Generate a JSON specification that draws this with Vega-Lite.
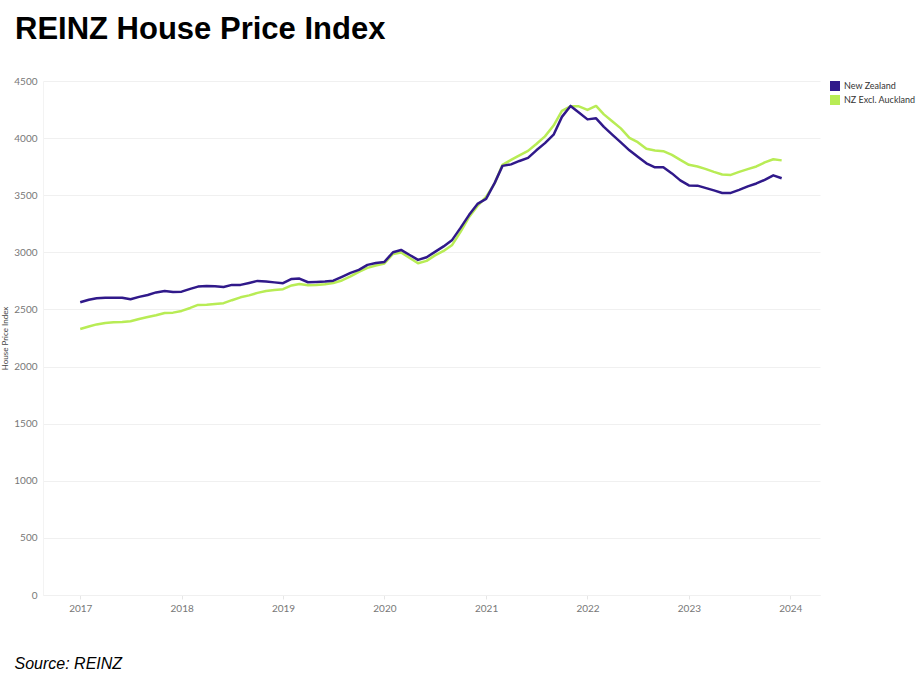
{
  "$schema": "https://vega.github.io/schema/vega-lite/v6.json",
  "autosize": {"type": "none"},
  "width": 777,
  "height": 514,
  "padding": {"left": 43, "top": 81, "right": 101, "bottom": 83},
  "background": "white",
  "title": {
    "text": "REINZ House Price Index",
    "anchor": "start",
    "frame": "group",
    "dx": -28,
    "offset": 6,
    "baseline": "alphabetic",
    "font": "Liberation Sans",
    "fontSize": 31,
    "fontWeight": "bold",
    "color": "#000000"
  },
  "config": {
    "view": {"stroke": null},
    "axis": {"labelFont": "Lato", "titleFont": "Lato"}
  },
  "data": {
    "values": [
      {"date":"2017-01-01","series":"NZ Excl. Auckland","value":2329},
      {"date":"2017-02-01","series":"NZ Excl. Auckland","value":2351},
      {"date":"2017-03-01","series":"NZ Excl. Auckland","value":2369},
      {"date":"2017-04-01","series":"NZ Excl. Auckland","value":2382},
      {"date":"2017-05-01","series":"NZ Excl. Auckland","value":2388},
      {"date":"2017-06-01","series":"NZ Excl. Auckland","value":2391},
      {"date":"2017-07-01","series":"NZ Excl. Auckland","value":2397},
      {"date":"2017-08-01","series":"NZ Excl. Auckland","value":2417},
      {"date":"2017-09-01","series":"NZ Excl. Auckland","value":2434},
      {"date":"2017-10-01","series":"NZ Excl. Auckland","value":2449},
      {"date":"2017-11-01","series":"NZ Excl. Auckland","value":2469},
      {"date":"2017-12-01","series":"NZ Excl. Auckland","value":2472},
      {"date":"2018-01-01","series":"NZ Excl. Auckland","value":2487},
      {"date":"2018-02-01","series":"NZ Excl. Auckland","value":2513},
      {"date":"2018-03-01","series":"NZ Excl. Auckland","value":2540},
      {"date":"2018-04-01","series":"NZ Excl. Auckland","value":2542},
      {"date":"2018-05-01","series":"NZ Excl. Auckland","value":2548},
      {"date":"2018-06-01","series":"NZ Excl. Auckland","value":2555},
      {"date":"2018-07-01","series":"NZ Excl. Auckland","value":2581},
      {"date":"2018-08-01","series":"NZ Excl. Auckland","value":2606},
      {"date":"2018-09-01","series":"NZ Excl. Auckland","value":2623},
      {"date":"2018-10-01","series":"NZ Excl. Auckland","value":2645},
      {"date":"2018-11-01","series":"NZ Excl. Auckland","value":2662},
      {"date":"2018-12-01","series":"NZ Excl. Auckland","value":2671},
      {"date":"2019-01-01","series":"NZ Excl. Auckland","value":2677},
      {"date":"2019-02-01","series":"NZ Excl. Auckland","value":2710},
      {"date":"2019-03-01","series":"NZ Excl. Auckland","value":2723},
      {"date":"2019-04-01","series":"NZ Excl. Auckland","value":2712},
      {"date":"2019-05-01","series":"NZ Excl. Auckland","value":2715},
      {"date":"2019-06-01","series":"NZ Excl. Auckland","value":2721},
      {"date":"2019-07-01","series":"NZ Excl. Auckland","value":2732},
      {"date":"2019-08-01","series":"NZ Excl. Auckland","value":2754},
      {"date":"2019-09-01","series":"NZ Excl. Auckland","value":2789},
      {"date":"2019-10-01","series":"NZ Excl. Auckland","value":2829},
      {"date":"2019-11-01","series":"NZ Excl. Auckland","value":2864},
      {"date":"2019-12-01","series":"NZ Excl. Auckland","value":2885},
      {"date":"2020-01-01","series":"NZ Excl. Auckland","value":2903},
      {"date":"2020-02-01","series":"NZ Excl. Auckland","value":2986},
      {"date":"2020-03-01","series":"NZ Excl. Auckland","value":2999},
      {"date":"2020-04-01","series":"NZ Excl. Auckland","value":2951},
      {"date":"2020-05-01","series":"NZ Excl. Auckland","value":2905},
      {"date":"2020-06-01","series":"NZ Excl. Auckland","value":2925},
      {"date":"2020-07-01","series":"NZ Excl. Auckland","value":2973},
      {"date":"2020-08-01","series":"NZ Excl. Auckland","value":3012},
      {"date":"2020-09-01","series":"NZ Excl. Auckland","value":3065},
      {"date":"2020-10-01","series":"NZ Excl. Auckland","value":3179},
      {"date":"2020-11-01","series":"NZ Excl. Auckland","value":3310},
      {"date":"2020-12-01","series":"NZ Excl. Auckland","value":3406},
      {"date":"2021-01-01","series":"NZ Excl. Auckland","value":3485},
      {"date":"2021-02-01","series":"NZ Excl. Auckland","value":3604},
      {"date":"2021-03-01","series":"NZ Excl. Auckland","value":3766},
      {"date":"2021-04-01","series":"NZ Excl. Auckland","value":3809},
      {"date":"2021-05-01","series":"NZ Excl. Auckland","value":3849},
      {"date":"2021-06-01","series":"NZ Excl. Auckland","value":3888},
      {"date":"2021-07-01","series":"NZ Excl. Auckland","value":3949},
      {"date":"2021-08-01","series":"NZ Excl. Auckland","value":4015},
      {"date":"2021-09-01","series":"NZ Excl. Auckland","value":4110},
      {"date":"2021-10-01","series":"NZ Excl. Auckland","value":4238},
      {"date":"2021-11-01","series":"NZ Excl. Auckland","value":4279},
      {"date":"2021-12-01","series":"NZ Excl. Auckland","value":4278},
      {"date":"2022-01-01","series":"NZ Excl. Auckland","value":4247},
      {"date":"2022-02-01","series":"NZ Excl. Auckland","value":4282},
      {"date":"2022-03-01","series":"NZ Excl. Auckland","value":4208},
      {"date":"2022-04-01","series":"NZ Excl. Auckland","value":4146},
      {"date":"2022-05-01","series":"NZ Excl. Auckland","value":4085},
      {"date":"2022-06-01","series":"NZ Excl. Auckland","value":4002},
      {"date":"2022-07-01","series":"NZ Excl. Auckland","value":3964},
      {"date":"2022-08-01","series":"NZ Excl. Auckland","value":3906},
      {"date":"2022-09-01","series":"NZ Excl. Auckland","value":3892},
      {"date":"2022-10-01","series":"NZ Excl. Auckland","value":3886},
      {"date":"2022-11-01","series":"NZ Excl. Auckland","value":3853},
      {"date":"2022-12-01","series":"NZ Excl. Auckland","value":3809},
      {"date":"2023-01-01","series":"NZ Excl. Auckland","value":3766},
      {"date":"2023-02-01","series":"NZ Excl. Auckland","value":3751},
      {"date":"2023-03-01","series":"NZ Excl. Auckland","value":3731},
      {"date":"2023-04-01","series":"NZ Excl. Auckland","value":3704},
      {"date":"2023-05-01","series":"NZ Excl. Auckland","value":3682},
      {"date":"2023-06-01","series":"NZ Excl. Auckland","value":3678},
      {"date":"2023-07-01","series":"NZ Excl. Auckland","value":3704},
      {"date":"2023-08-01","series":"NZ Excl. Auckland","value":3728},
      {"date":"2023-09-01","series":"NZ Excl. Auckland","value":3752},
      {"date":"2023-10-01","series":"NZ Excl. Auckland","value":3787},
      {"date":"2023-11-01","series":"NZ Excl. Auckland","value":3815},
      {"date":"2023-12-01","series":"NZ Excl. Auckland","value":3805},
      {"date":"2017-01-01","series":"New Zealand","value":2563},
      {"date":"2017-02-01","series":"New Zealand","value":2585},
      {"date":"2017-03-01","series":"New Zealand","value":2598},
      {"date":"2017-04-01","series":"New Zealand","value":2603},
      {"date":"2017-05-01","series":"New Zealand","value":2603},
      {"date":"2017-06-01","series":"New Zealand","value":2603},
      {"date":"2017-07-01","series":"New Zealand","value":2589},
      {"date":"2017-08-01","series":"New Zealand","value":2610},
      {"date":"2017-09-01","series":"New Zealand","value":2627},
      {"date":"2017-10-01","series":"New Zealand","value":2649},
      {"date":"2017-11-01","series":"New Zealand","value":2662},
      {"date":"2017-12-01","series":"New Zealand","value":2653},
      {"date":"2018-01-01","series":"New Zealand","value":2656},
      {"date":"2018-02-01","series":"New Zealand","value":2680},
      {"date":"2018-03-01","series":"New Zealand","value":2700},
      {"date":"2018-04-01","series":"New Zealand","value":2706},
      {"date":"2018-05-01","series":"New Zealand","value":2702},
      {"date":"2018-06-01","series":"New Zealand","value":2697},
      {"date":"2018-07-01","series":"New Zealand","value":2715},
      {"date":"2018-08-01","series":"New Zealand","value":2715},
      {"date":"2018-09-01","series":"New Zealand","value":2732},
      {"date":"2018-10-01","series":"New Zealand","value":2750},
      {"date":"2018-11-01","series":"New Zealand","value":2745},
      {"date":"2018-12-01","series":"New Zealand","value":2737},
      {"date":"2019-01-01","series":"New Zealand","value":2730},
      {"date":"2019-02-01","series":"New Zealand","value":2767},
      {"date":"2019-03-01","series":"New Zealand","value":2770},
      {"date":"2019-04-01","series":"New Zealand","value":2738},
      {"date":"2019-05-01","series":"New Zealand","value":2741},
      {"date":"2019-06-01","series":"New Zealand","value":2745},
      {"date":"2019-07-01","series":"New Zealand","value":2752},
      {"date":"2019-08-01","series":"New Zealand","value":2785},
      {"date":"2019-09-01","series":"New Zealand","value":2820},
      {"date":"2019-10-01","series":"New Zealand","value":2846},
      {"date":"2019-11-01","series":"New Zealand","value":2890},
      {"date":"2019-12-01","series":"New Zealand","value":2907},
      {"date":"2020-01-01","series":"New Zealand","value":2916},
      {"date":"2020-02-01","series":"New Zealand","value":3001},
      {"date":"2020-03-01","series":"New Zealand","value":3021},
      {"date":"2020-04-01","series":"New Zealand","value":2977},
      {"date":"2020-05-01","series":"New Zealand","value":2934},
      {"date":"2020-06-01","series":"New Zealand","value":2957},
      {"date":"2020-07-01","series":"New Zealand","value":3004},
      {"date":"2020-08-01","series":"New Zealand","value":3052},
      {"date":"2020-09-01","series":"New Zealand","value":3109},
      {"date":"2020-10-01","series":"New Zealand","value":3214},
      {"date":"2020-11-01","series":"New Zealand","value":3328},
      {"date":"2020-12-01","series":"New Zealand","value":3424},
      {"date":"2021-01-01","series":"New Zealand","value":3468},
      {"date":"2021-02-01","series":"New Zealand","value":3608},
      {"date":"2021-03-01","series":"New Zealand","value":3757},
      {"date":"2021-04-01","series":"New Zealand","value":3770},
      {"date":"2021-05-01","series":"New Zealand","value":3800},
      {"date":"2021-06-01","series":"New Zealand","value":3827},
      {"date":"2021-07-01","series":"New Zealand","value":3893},
      {"date":"2021-08-01","series":"New Zealand","value":3956},
      {"date":"2021-09-01","series":"New Zealand","value":4030},
      {"date":"2021-10-01","series":"New Zealand","value":4186},
      {"date":"2021-11-01","series":"New Zealand","value":4282},
      {"date":"2021-12-01","series":"New Zealand","value":4225},
      {"date":"2022-01-01","series":"New Zealand","value":4164},
      {"date":"2022-02-01","series":"New Zealand","value":4173},
      {"date":"2022-03-01","series":"New Zealand","value":4098},
      {"date":"2022-04-01","series":"New Zealand","value":4028},
      {"date":"2022-05-01","series":"New Zealand","value":3963},
      {"date":"2022-06-01","series":"New Zealand","value":3893},
      {"date":"2022-07-01","series":"New Zealand","value":3836},
      {"date":"2022-08-01","series":"New Zealand","value":3779},
      {"date":"2022-09-01","series":"New Zealand","value":3744},
      {"date":"2022-10-01","series":"New Zealand","value":3744},
      {"date":"2022-11-01","series":"New Zealand","value":3691},
      {"date":"2022-12-01","series":"New Zealand","value":3630},
      {"date":"2023-01-01","series":"New Zealand","value":3586},
      {"date":"2023-02-01","series":"New Zealand","value":3584},
      {"date":"2023-03-01","series":"New Zealand","value":3564},
      {"date":"2023-04-01","series":"New Zealand","value":3542},
      {"date":"2023-05-01","series":"New Zealand","value":3520},
      {"date":"2023-06-01","series":"New Zealand","value":3520},
      {"date":"2023-07-01","series":"New Zealand","value":3547},
      {"date":"2023-08-01","series":"New Zealand","value":3577},
      {"date":"2023-09-01","series":"New Zealand","value":3603},
      {"date":"2023-10-01","series":"New Zealand","value":3634},
      {"date":"2023-11-01","series":"New Zealand","value":3674},
      {"date":"2023-12-01","series":"New Zealand","value":3649}
    ]
  },
  "mark": {"type": "line", "strokeWidth": 2.5, "strokeJoin": "round", "clip": true},
  "encoding": {
    "x": {
      "field": "date",
      "type": "temporal",
      "scale": {"type": "utc", "domain": ["2016-08-20", "2024-04-17"]},
      "axis": {
        "format": "%Y",
        "formatType": "utc",
        "tickCount": {"interval": "year", "step": 1},
        "grid": false,
        "domain": true,
        "domainColor": "#f0f0f0",
        "ticks": true,
        "tickColor": "#e6e6e6",
        "tickSize": 4,
        "labelPadding": 4,
        "labelColor": "#777777",
        "labelFontSize": 10,
        "title": "Source: REINZ",
        "titleAnchor": "start",
        "titleAlign": "left",
        "titleX": -29,
        "titleY": 73,
        "titleBaseline": "alphabetic",
        "titleFont": "Liberation Sans",
        "titleFontStyle": "italic",
        "titleFontWeight": "normal",
        "titleFontSize": 16,
        "titleColor": "#000000"
      }
    },
    "y": {
      "field": "value",
      "type": "quantitative",
      "scale": {"domain": [0, 4500], "nice": false, "zero": true},
      "axis": {
        "values": [0, 500, 1000, 1500, 2000, 2500, 3000, 3500, 4000, 4500],
        "format": "d",
        "grid": true,
        "gridColor": "#f0f0f0",
        "gridWidth": 1,
        "domain": true,
        "domainColor": "#f3f3f3",
        "ticks": false,
        "labelPadding": 6,
        "labelColor": "#777777",
        "labelFontSize": 10,
        "title": "House Price Index",
        "titleFontSize": 8,
        "titleFontWeight": "normal",
        "titleColor": "#444444",
        "titleX": -38,
        "titleY": 257,
        "titleAngle": -90,
        "titleBaseline": "middle",
        "titleAlign": "center"
      }
    },
    "color": {
      "field": "series",
      "type": "nominal",
      "scale": {
        "domain": ["New Zealand", "NZ Excl. Auckland"],
        "range": ["#30198a", "#b8ec55"]
      },
      "legend": {
        "title": null,
        "orient": "right",
        "offset": 10,
        "padding": 0,
        "symbolType": "square",
        "symbolSize": 100,
        "symbolStrokeWidth": 0,
        "labelFontSize": 9,
        "labelColor": "#333333",
        "labelFont": "Lato",
        "labelOffset": 4,
        "rowPadding": 4,
        "encode": {
          "symbols": {
            "update": {
              "fill": {"scale": "color", "field": "value"},
              "strokeWidth": {"value": 0}
            }
          }
        }
      }
    }
  }
}
